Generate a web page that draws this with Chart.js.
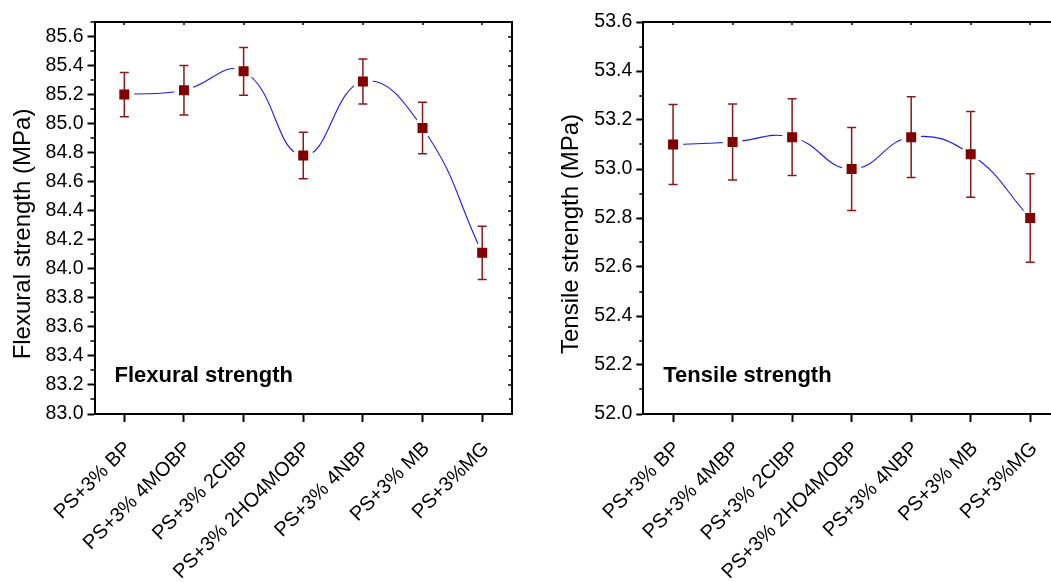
<!DOCTYPE html>
<html><head><meta charset="utf-8">
<script src="https://cdn.jsdelivr.net/npm/chart.js@4.4.1/dist/chart.umd.min.js"></script>
<style>
html,body{margin:0;padding:0;background:#fff;overflow:hidden;}
#wrap{position:relative;width:1051px;height:582px;overflow:hidden;background:#fff;}
canvas{position:absolute;top:0;}
#c1{left:0;} #c2{left:540px;}
</style></head><body>
<div id="wrap"><canvas id="c1" width="530" height="582"></canvas><canvas id="c2" width="530" height="582"></canvas></div>
<script>
const flexCategories = ["PS+3% BP","PS+3% 4MOBP","PS+3% 2ClBP","PS+3% 2HO4MOBP","PS+3% 4NBP","PS+3% MB","PS+3%MG"];
const tensCategories = ["PS+3% BP","PS+3% 4MBP","PS+3% 2ClBP","PS+3% 2HO4MOBP","PS+3% 4NBP","PS+3% MB","PS+3%MG"];
const flexValues = [85.20, 85.23, 85.36, 84.78, 85.29, 84.97, 84.11];
const flexErrors = [0.153, 0.170, 0.165, 0.160, 0.155, 0.178, 0.184];
const tensValues = [53.10, 53.11, 53.13, 53.00, 53.13, 53.06, 52.80];
const tensErrors = [0.163, 0.155, 0.157, 0.169, 0.165, 0.175, 0.181];
const flexTicks = [83.0, 83.2, 83.4, 83.6, 83.8, 84.0, 84.2, 84.4, 84.6, 84.8, 85.0, 85.2, 85.4, 85.6];
const tensTicks = [52.0, 52.2, 52.4, 52.6, 52.8, 53.0, 53.2, 53.4, 53.6];

const FONT = '"Liberation Sans", Arial, sans-serif';
const MARKER = '#800000';
const ERRCOL = '#8a1a1a';

const decoPlugin = {
  id: 'deco',
  afterDatasetDraw(chart, args, opts) {
    if (args.index !== 1) return;
    const ctx = chart.ctx, y = chart.scales.y, x = chart.scales.x;
    const vals = chart.data.datasets[0].data;
    ctx.save();
    ctx.strokeStyle = ERRCOL;
    ctx.lineWidth = 1.5;
    vals.forEach((v, i) => {
      const e = opts.errors[i];
      const px = x.getPixelForValue(i);
      const yt = y.getPixelForValue(v + e), yb = y.getPixelForValue(v - e);
      ctx.beginPath();
      ctx.moveTo(px, yt); ctx.lineTo(px, yb);
      ctx.moveTo(px - 4.5, yt); ctx.lineTo(px + 4.5, yt);
      ctx.moveTo(px - 4.5, yb); ctx.lineTo(px + 4.5, yb);
      ctx.stroke();
    });
    ctx.restore();
  },
  afterDraw(chart, args, opts) {
    const ctx = chart.ctx, a = chart.chartArea, y = chart.scales.y, x = chart.scales.x;
    ctx.save();
    ctx.strokeStyle = '#000';
    ctx.lineWidth = 2;
    ctx.beginPath();
    ctx.moveTo(a.left, a.top); ctx.lineTo(a.right, a.top); ctx.lineTo(a.right, a.bottom);
    ctx.stroke();
    const ticks = opts.ticks;
    const minors = [];
    for (let i = 0; i < ticks.length - 1; i++) minors.push((ticks[i] + ticks[i + 1]) / 2);
    const last = ticks[ticks.length - 1];
    if (last + 0.1 <= y.max + 1e-9) minors.push(last + 0.1);
    ctx.lineWidth = 1.5;
    ctx.beginPath();
    minors.forEach(v => {
      const py = Math.round(y.getPixelForValue(v));
      ctx.moveTo(a.left - 4, py); ctx.lineTo(a.left, py);
      ctx.moveTo(a.right - 3, py); ctx.lineTo(a.right, py);
    });
    ticks.forEach(v => {
      const py = Math.round(y.getPixelForValue(v));
      ctx.moveTo(a.right - 4, py); ctx.lineTo(a.right, py);
    });
    chart.data.labels.forEach((l, i) => {
      const px = Math.round(x.getPixelForValue(i));
      ctx.moveTo(px, a.top); ctx.lineTo(px, a.top + 3);
    });
    ctx.stroke();
    ctx.fillStyle = '#000';
    ctx.font = '24px ' + FONT;
    ctx.textAlign = 'center';
    ctx.textBaseline = 'alphabetic';
    ctx.translate(a.left - 65, (a.top + a.bottom) / 2 + 16);
    ctx.rotate(-Math.PI / 2);
    ctx.fillText(opts.title, 0, 0);
    ctx.setTransform(1, 0, 0, 1, 0, 0);
    ctx.font = 'bold 22px ' + FONT;
    ctx.textAlign = 'left';
    ctx.fillText(opts.note, a.left + 20, a.bottom - 32.5);
    ctx.restore();
  }
};

function makeChart(id, labels, values, errors, ticks, ymin, ymax, yWidth, padRight, title, note) {
  return new Chart(document.getElementById(id), {
    type: 'line',
    data: {
      labels: labels,
      datasets: [
        {
          data: values,
          showLine: false,
          pointStyle: 'rect',
          pointRadius: 7.07,
          pointBackgroundColor: MARKER,
          pointBorderColor: MARKER,
          pointBorderWidth: 0
        },
        {
          data: values,
          borderColor: '#1a1aff',
          borderWidth: 1.1,
          tension: 0.45,
          fill: false,
          pointStyle: 'circle',
          pointRadius: 10,
          pointBackgroundColor: '#ffffff',
          pointBorderWidth: 0
        }
      ]
    },
    options: {
      responsive: false,
      animation: false,
      devicePixelRatio: 1,
      layout: { padding: { left: 0, top: 22, right: padRight, bottom: 0 } },
      plugins: {
        legend: { display: false },
        tooltip: { enabled: false },
        deco: { errors: errors, ticks: ticks, title: title, note: note }
      },
      scales: {
        x: {
          type: 'category',
          offset: true,
          grid: { drawOnChartArea: false, drawTicks: true, tickLength: 8, tickWidth: 2, tickColor: '#000', offset: false },
          border: { display: true, width: 2, color: '#000' },
          ticks: {
            autoSkip: false, minRotation: 45, maxRotation: 45, padding: 15, labelOffset: 4,
            color: '#000', font: { family: FONT, size: 20 }
          },
          afterFit: s => { s.height = 168; }
        },
        y: {
          min: ymin, max: ymax,
          afterBuildTicks: s => { s.ticks = ticks.map(v => ({ value: v })); },
          grid: { drawOnChartArea: false, drawTicks: true, tickLength: 7, tickWidth: 2, tickColor: '#000' },
          border: { display: true, width: 2, color: '#000' },
          ticks: {
            padding: 4, color: '#000', font: { family: FONT, size: 19.5 },
            callback: v => Number(v).toFixed(1)
          },
          afterFit: s => { s.width = yWidth; }
        }
      }
    },
    plugins: [decoPlugin]
  });
}

makeChart('c1', flexCategories, flexValues, flexErrors, flexTicks, 83.0, 85.7, 94.5, 18,
  'Flexural strength (MPa)', 'Flexural strength');
makeChart('c2', tensCategories, tensValues, tensErrors, tensTicks, 52.0, 53.6, 103.3, 9,
  'Tensile strength (MPa)', 'Tensile strength');
</script>
</body></html>
